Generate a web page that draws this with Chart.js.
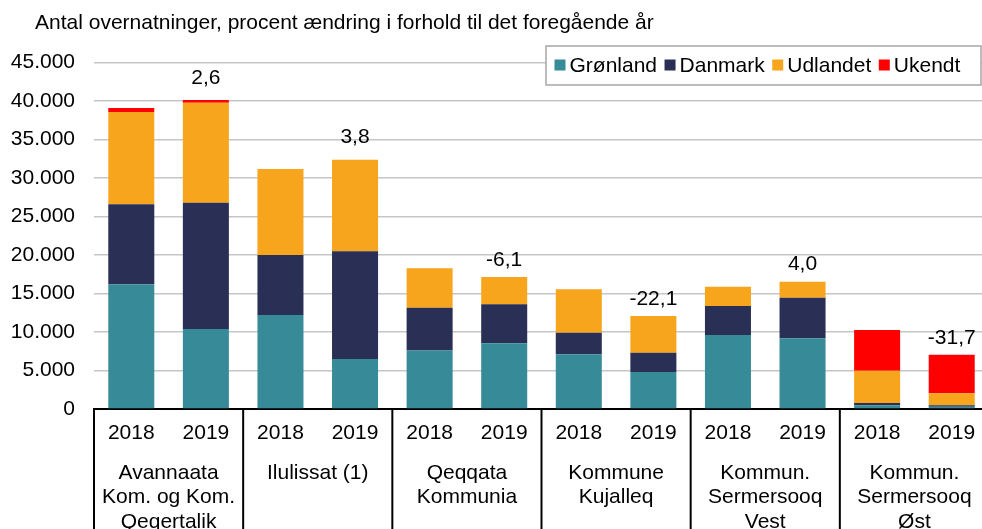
<!DOCTYPE html>
<html lang="da">
<head>
<meta charset="utf-8">
<title>Overnatninger</title>
<script src="https://cdn.jsdelivr.net/npm/chart.js@4.4.1/dist/chart.umd.min.js"></script>
<style>
  html, body { margin: 0; padding: 0; background: #fff; overflow: hidden; }
</style>
</head>
<body>
<canvas id="chart" width="990" height="529"></canvas>
<script>
// bars, two per municipality
const years = ['2018', '2019', '2018', '2019', '2018', '2019', '2018', '2019', '2018', '2019', '2018', '2019'];
const groups = [
  ['Avannaata', 'Kom. og Kom.', 'Qeqertalik'],
  ['Ilulissat (1)'],
  ['Qeqqata', 'Kommunia'],
  ['Kommune', 'Kujalleq'],
  ['Kommun.', 'Sermersooq', 'Vest'],
  ['Kommun.', 'Sermersooq', 'Øst']
];
const gronland = [16200, 10400, 12200, 6500, 7600, 8550, 7100, 4800, 9600, 9200, 500, 300];
const danmark  = [10400, 16400, 7800, 14000, 5550, 5050, 2800, 2500, 3770, 5250, 280, 180];
const udlandet = [12000, 13000, 11200, 11900, 5130, 3560, 5650, 4800, 2520, 2100, 4200, 1560];
const ukendt   = [500, 350, 0, 0, 0, 0, 0, 0, 0, 0, 5300, 5000];
// procent ændring 2018-2019, shown over the 2019 bar
const changes = ['2,6', '3,8', '-6,1', '-22,1', '4,0', '-31,7'];

const FONT = "'Liberation Sans', Arial, sans-serif";

const fmt = v => String(v).replace(/\B(?=(\d{3})+(?!\d))/g, '.');

// title sits a bit right of the axis labels
const titleShift = {
  id: 'titleShift',
  afterLayout(chart) {
    if (chart.titleBlock) chart.titleBlock.left = 35;
  }
};

// group names, separators and the change labels
const groupAxis = {
  id: 'groupAxis',
  afterDraw(chart) {
    const { ctx, chartArea, scales: { x, y } } = chart;
    const half = (x.getPixelForValue(1) - x.getPixelForValue(0)) / 2;
    ctx.save();
    ctx.strokeStyle = '#000';
    ctx.lineWidth = 2;
    ctx.fillStyle = '#000';
    ctx.font = '21px ' + FONT;
    ctx.textAlign = 'center';
    ctx.textBaseline = 'middle';
    groups.forEach((lines, i) => {
      const left = x.getPixelForValue(i * 2) - half;
      ctx.beginPath();
      ctx.moveTo(left, chartArea.bottom);
      ctx.lineTo(left, chart.height);
      ctx.stroke();
      const cx = x.getPixelForValue(i * 2) + half;
      lines.forEach((t, j) => ctx.fillText(t, cx, 473 + j * 24.5));
    });
    const right = x.getPixelForValue(years.length - 1) + half;
    ctx.beginPath();
    ctx.moveTo(right, chartArea.bottom);
    ctx.lineTo(right, chart.height);
    ctx.stroke();

    changes.forEach((c, i) => {
      const idx = i * 2 + 1;
      const total = gronland[idx] + danmark[idx] + udlandet[idx] + ukendt[idx];
      const off = idx < 4 ? 22 : 17;
      ctx.fillText(c, x.getPixelForValue(idx), y.getPixelForValue(total) - off);
    });
    ctx.restore();
  }
};

// boxed legend inside the plot, top right
const boxLegend = {
  id: 'boxLegend',
  afterDraw(chart) {
    const { ctx } = chart;
    ctx.save();
    ctx.fillStyle = '#fff';
    ctx.fillRect(546, 46, 435, 39);
    ctx.strokeStyle = '#a6a6a6';
    ctx.lineWidth = 1.5;
    ctx.strokeRect(546, 46, 435, 39);
    ctx.font = '21px ' + FONT;
    ctx.textBaseline = 'middle';
    ctx.textAlign = 'left';
    let xx = 554.5;
    chart.data.datasets.forEach(ds => {
      ctx.fillStyle = ds.backgroundColor;
      ctx.fillRect(xx, 59.5, 11, 11);
      xx += 15;
      ctx.fillStyle = '#000';
      ctx.fillText(ds.label, xx, 66);
      xx += ctx.measureText(ds.label).width + 7.5;
    });
    ctx.restore();
  }
};

new Chart(document.getElementById('chart'), {
  type: 'bar',
  data: {
    labels: years,
    datasets: [
      { label: 'Grønland', data: gronland, backgroundColor: '#378a98' },
      { label: 'Danmark', data: danmark, backgroundColor: '#2a2f55' },
      { label: 'Udlandet', data: udlandet, backgroundColor: '#f8a51e' },
      { label: 'Ukendt', data: ukendt, backgroundColor: '#ff0000' }
    ]
  },
  options: {
    responsive: false,
    animation: false,
    devicePixelRatio: 1,
    layout: { padding: { left: 8, right: 1, top: 0, bottom: 0 } },
    datasets: { bar: { categoryPercentage: 1, barPercentage: 0.617, borderWidth: 0 } },
    plugins: {
      legend: { display: false },
      tooltip: { enabled: false },
      title: {
        display: true,
        text: 'Antal overnatninger, procent ændring i forhold til det foregående år',
        align: 'start',
        color: '#000',
        font: { family: FONT, size: 21, weight: 'normal' },
        padding: { top: 10.5, bottom: 27 }
      }
    },
    scales: {
      x: {
        stacked: true,
        grid: { display: false, drawTicks: false },
        border: { display: true, color: '#000', width: 2 },
        ticks: { color: '#000', font: { family: FONT, size: 21 }, padding: 12, maxRotation: 0 },
        afterFit: s => { s.height = 120; }
      },
      y: {
        stacked: true,
        min: 0,
        max: 45000,
        grid: { color: '#c6c6c6', lineWidth: 1.5, drawTicks: false },
        border: { display: false },
        ticks: { stepSize: 5000, color: '#000', font: { family: FONT, size: 21 }, padding: 19, callback: v => fmt(v) },
        afterFit: s => { s.width = 86; }
      }
    }
  },
  plugins: [titleShift, groupAxis, boxLegend]
});
</script>
</body>
</html>
